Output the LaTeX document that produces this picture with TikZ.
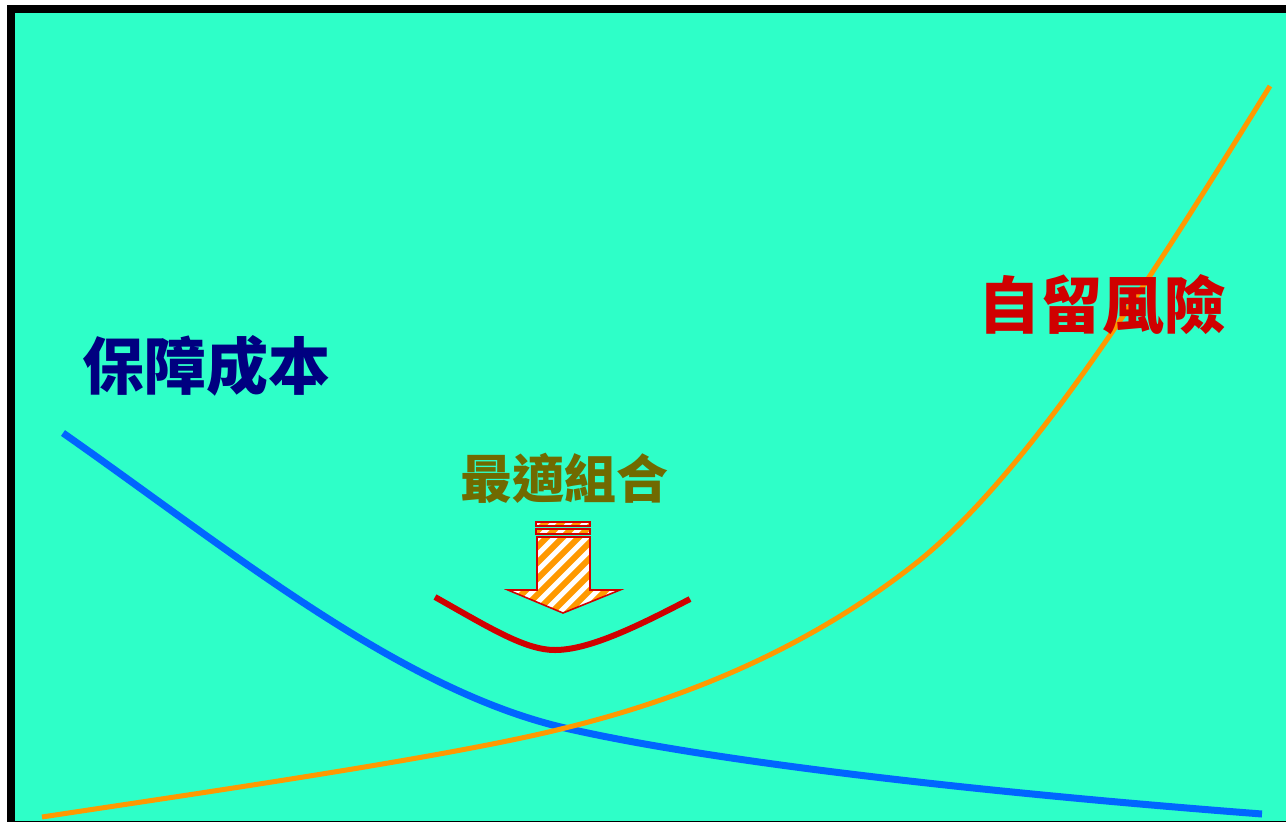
\documentclass[tikz,border=0pt]{standalone}
\usepackage{fontspec}
\newfontfamily\cjk{Noto Sans CJK TC}
\definecolor{bg}{RGB}{46,255,200}
\definecolor{costblue}{RGB}{0,102,255}
\definecolor{riskorange}{RGB}{255,153,0}
\definecolor{optred}{RGB}{208,0,0}
\definecolor{navytext}{RGB}{0,0,128}
\definecolor{olivetext}{RGB}{112,106,0}
\tikzset{
  curve/.style={line cap=butt, line join=round},
  label/.style={inner sep=0pt, font=\cjk\bfseries},
  arrowshape/.style={draw=optred, line width=1.6pt, line join=miter}
}
\begin{document}
\begin{tikzpicture}[x=1pt,y=-1pt]
\useasboundingbox (0,0) rectangle (1286,823);
\fill[white] (0,0) rectangle (1286,823);
\fill[black] (7,5) rectangle (1286,822);
\fill[bg] (15,13) rectangle (1286,821);

% blue cost curve
\draw[curve, costblue, line width=7pt] (63,433) .. controls (230,550) and (400,690) .. (565,728)
  .. controls (700,759) and (950,790) .. (1262,814);

% orange risk curve
\draw[curve, riskorange, line width=5pt] (42,817) .. controls (200,793) and (450,757) .. (565,728)
  .. controls (700,695) and (820,640) .. (920,560)
  .. controls (1030,470) and (1150,280) .. (1270,86);

% red optimum curve
\draw[curve, optred, line width=6pt] (435,597) .. controls (490,628) and (525,650) .. (555,650)
  .. controls (590,650) and (640,625) .. (690,599);

% striped arrow
\begin{scope}
  \clip (537,537) -- (590,537) -- (590,590) -- (620,590) -- (563,613) -- (508,590) -- (537,590) -- cycle
        (536,522) rectangle (590,526) (536,529) rectangle (590,534);
  \fill[white] (500,515) rectangle (625,620);
  \foreach \x in {380,396,...,660} {
    \draw[riskorange, line width=6pt] (\x,640) -- (\x+140,500);
  }
\end{scope}
\draw[arrowshape] (537,537) -- (590,537) -- (590,590) -- (620,590) -- (563,613) -- (508,590) -- (537,590) -- cycle;
\draw[arrowshape] (536,522) rectangle (590,526);
\draw[arrowshape] (536,529) rectangle (590,534);

% labels
\node[label, text=navytext, font=\cjk\bfseries\fontsize{62}{62}\selectfont] (cost) at (206,366) {保障成本};
\node[label, text=optred, font=\cjk\bfseries\fontsize{62}{62}\selectfont] (risk) at (1102,305) {自留風險};
\node[label, text=olivetext, font=\cjk\bfseries\fontsize{52}{52}\selectfont] (opt) at (564,478) {最適組合};
\end{tikzpicture}
\end{document}
